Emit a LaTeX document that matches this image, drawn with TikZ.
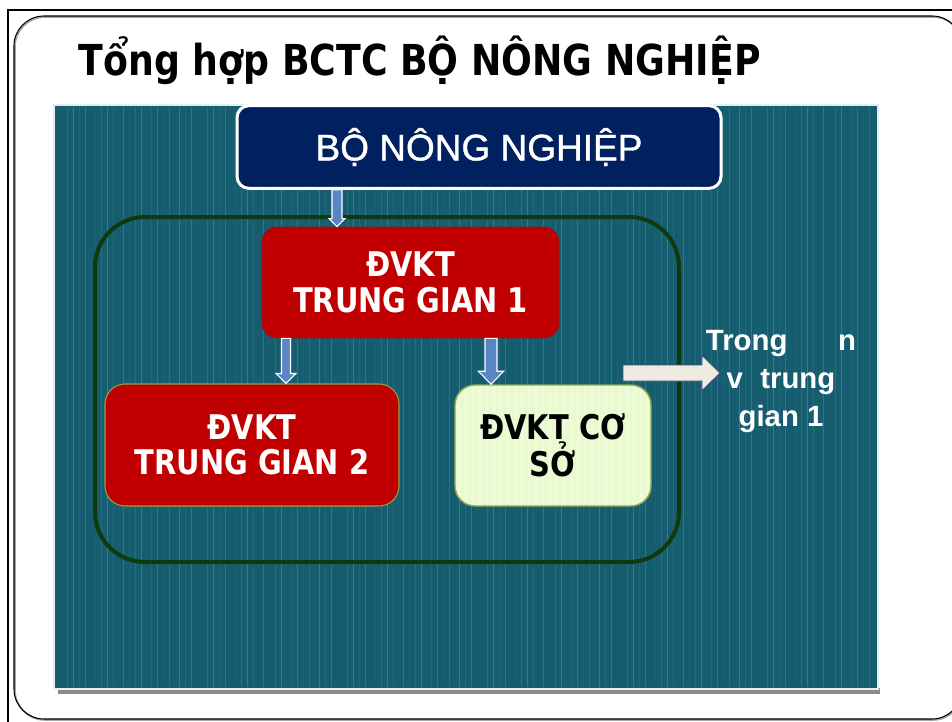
\documentclass[tikz,border=0pt]{standalone}
\usepackage{fontspec}
\setmainfont{Liberation Sans}
\newfontfamily\headfont{DejaVu Sans}[FakeStretch=0.85]
\newfontfamily\ministryfont{Liberation Sans}[FakeBold=1.1]
\usetikzlibrary{calc}

\definecolor{panelteal}{RGB}{22,93,111}
\definecolor{panelrim}{RGB}{225,238,242}
\definecolor{navybox}{RGB}{0,32,96}
\definecolor{unitred}{RGB}{192,0,0}
\definecolor{unitedge}{RGB}{150,20,20}
\definecolor{redolive}{RGB}{150,160,70}
\definecolor{basegreen}{RGB}{232,250,206}
\definecolor{baseedge}{RGB}{140,170,80}
\definecolor{framegreen}{RGB}{14,58,14}
\definecolor{arrowblue}{RGB}{88,134,196}
\definecolor{notearrow}{RGB}{238,236,225}
\definecolor{noteedge}{RGB}{70,70,130}

% vertical block arrow: start, tip, shaft half width, head half width, head length
\newcommand\blkdown[5]{%
  \filldraw[blockarrow] ($(#1)+(-#3,0)$) -- ($(#1)+(#3,0)$) -- ($(#2)+(#3,-#5)$)
    -- ($(#2)+(#4,-#5)$) -- (#2) -- ($(#2)+(-#4,-#5)$) -- ($(#2)+(-#3,-#5)$) -- cycle;}

\begin{document}
\begin{tikzpicture}[x=0.75pt,y=-0.75pt,
  boxtext/.style={font=\headfont\bfseries\fontsize{25.5pt}{26.5pt}\selectfont, align=center},
  topbox/.style={draw=white, line width=2.25pt, fill=navybox, rounded corners=9pt,
    minimum width=363pt, minimum height=62pt, text=white,
    font=\ministryfont\fontsize{27.75pt}{30pt}\selectfont},
  redunit/.style={boxtext, fill=unitred, text=white, inner sep=0pt},
  baseunit/.style={boxtext, fill=basegreen, draw=baseedge, line width=1.1pt, text=black,
    inner sep=0pt, rounded corners=15pt, minimum width=147pt, minimum height=90.75pt},
  groupframe/.style={draw=framegreen, line width=3pt, rounded corners=37.5pt,
    minimum width=438pt, minimum height=258.75pt},
  blockarrow/.style={fill=arrowblue, draw=white, line width=0.8pt, line join=miter},
  notearrowstyle/.style={fill=notearrow, draw=noteedge, line width=0.6pt},
  notetext/.style={font=\bfseries\fontsize{22pt}{28.5pt}\selectfont, text=white, align=center},
]
\useasboundingbox (0,0) rectangle (952,721);
\begin{scope}
\clip (0,0) rectangle (952,721);
\fill[white] (0,0) rectangle (952,721);

% slide frame
\draw[line width=1.6pt] (8,10) rectangle (1000,760);
\draw[black!35, line width=1.2pt, rounded corners=22.5pt] (15,17) rectangle (963,720);
\draw[line width=0.8pt, rounded corners=22.5pt] (14,16) rectangle (962,719);

% title
\node[font=\headfont\bfseries\fontsize{32pt}{34pt}\selectfont, anchor=base west]
  (title) at (74,75) {Tổng hợp BCTC BỘ NÔNG NGHIỆP};

% striped teal panel
\fill[black!45] (58,688) rectangle (880,694);
\fill[panelteal] (55,106) rectangle (877,688);
\foreach \i in {0,...,116} {
  \pgfmathsetmacro\op{0.03+0.035*mod(\i*7,5)}
  \pgfmathsetmacro\dx{mod(\i*3,4)-1.5}
  \draw[white, opacity=\op, line width=1pt] ({59+7*\i+\dx},107) -- ({59+7*\i+\dx},687);
}
\draw[panelrim, line width=2pt] (54,105) rectangle (878,689);
\end{scope}

% ministry box
\node[topbox] (bo) at (479,147) {BỘ NÔNG NGHIỆP};

% group frame
\node[groupframe] (grp) at (387,389.5) {};

% accounting units
\node[redunit, draw=unitedge, line width=0.6pt, rounded corners=11.25pt,
  minimum width=222.75pt, minimum height=83.25pt] (tg1) at (410.5,282.5)
  {ĐVKT\\TRUNG GIAN 1};
\node[redunit, draw=redolive, line width=0.8pt, rounded corners=15pt,
  minimum width=220.5pt, minimum height=91.5pt] (tg2) at (252,445)
  {ĐVKT\\TRUNG GIAN 2};
\node[baseunit, path picture={
    \foreach \k in {0,...,28} {
      \draw[white, opacity=0.3, line width=0.9pt]
        ($(path picture bounding box.north west)+({4+7*\k},0)$) --
        ($(path picture bounding box.south west)+({4+7*\k},0)$);}
  }] (cs) at (553,445.5) {ĐVKT CƠ\\SỞ};

% connectors
\coordinate (a1s) at (337,0 |- bo.south);
\coordinate (a1e) at (337,0 |- tg1.north);
\coordinate (a2s) at (286,0 |- tg1.south);
\coordinate (a2e) at (286,0 |- tg2.north);
\coordinate (a3s) at (491,0 |- tg1.south);
\coordinate (a3e) at (491,0 |- cs.north);
\blkdown{a1s}{a1e}{5}{8}{8}
\blkdown{a2s}{a2e}{4.5}{10}{10}
\blkdown{a3s}{a3e}{6}{12.5}{13}

% side note
\node[notetext] (note) at (781,382)
  {Trong\hspace{38pt}n\\v\hspace{13pt}trung\\gian 1};
\coordinate (h1) at (623,373);
\coordinate (h2) at (720,373);
\filldraw[notearrowstyle] ($(h1)+(0,-8)$) -- ($(h2)+(-18,-8)$) -- ($(h2)+(-18,-17.5)$)
  -- (h2) -- ($(h2)+(-18,17.5)$) -- ($(h2)+(-18,8)$) -- ($(h1)+(0,8)$) -- cycle;
\end{tikzpicture}
\end{document}
